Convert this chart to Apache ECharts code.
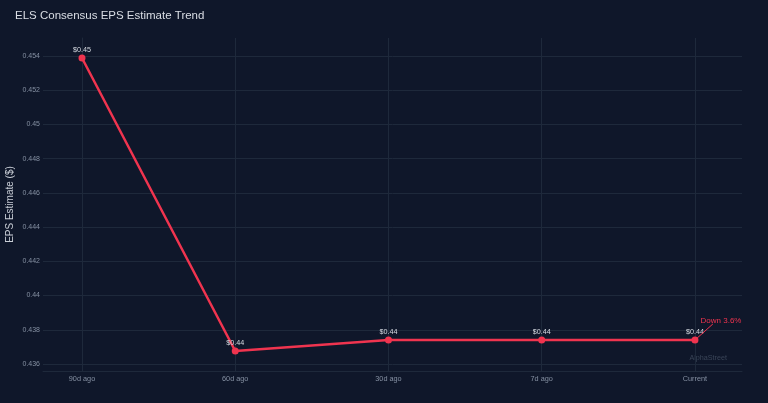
<!DOCTYPE html>
<html>
<head>
<meta charset="utf-8">
<script src="https://cdn.jsdelivr.net/npm/echarts@6/dist/echarts.min.js"></script>
<style>
html,body{margin:0;padding:0;background:#0f172a;}
#c{width:768px;height:403px;}
</style>
</head>
<body>
<div id="c"></div>
<script>
const categories = ['90d ago', '60d ago', '30d ago', '7d ago', 'Current'];
const epsValues = [0.45388, 0.43676, 0.43740, 0.43740, 0.43740];
const yTicks = [0.436, 0.438, 0.44, 0.442, 0.444, 0.446, 0.448, 0.45, 0.452, 0.454];
const xTicks = [0, 1, 2, 3, 4];
const annotationText = 'Down 3.6%';
const watermark = 'AlphaStreet';

const chart = echarts.init(document.getElementById('c'));
const gridColor = '#1e293b';
const labelColor = '#8590a2';
const red = '#f0344f';
const ff = 'Liberation Sans, Arial, sans-serif';

chart.setOption({
  backgroundColor: '#0f172a',
  animation: false,
  title: {
    text: 'ELS Consensus EPS Estimate Trend',
    left: 10, top: 5,
    textStyle: {color: '#d9dde4', fontSize: 11.5, fontWeight: 'normal', fontFamily: ff}
  },
  grid: {left: 43, right: 26, top: 38, bottom: 32, containLabel: false, outerBoundsMode: 'none'},
  xAxis: {
    type: 'value',
    min: -0.2545, max: 4.307,
    axisLine: {show: true, lineStyle: {color: gridColor}},
    axisTick: {show: false, customValues: xTicks},
    splitLine: {show: true, lineStyle: {color: gridColor, width: 1}},
    axisLabel: {
      customValues: xTicks,
      color: labelColor, fontSize: 7.3, margin: 4, fontFamily: ff,
      formatter: v => categories[Math.round(v)] || ''
    }
  },
  yAxis: {
    type: 'value',
    min: 0.43559, max: 0.45505,
    name: 'EPS Estimate ($)',
    nameLocation: 'middle', nameGap: 28, nameMoveOverlap: false,
    nameTextStyle: {color: '#c9ced6', fontSize: 10, fontFamily: ff},
    axisLine: {show: true, lineStyle: {color: gridColor}},
    axisTick: {show: false, customValues: yTicks},
    splitLine: {show: true, lineStyle: {color: gridColor, width: 1}},
    axisLabel: {
      customValues: yTicks,
      color: labelColor, fontSize: 7, margin: 3, fontFamily: ff
    }
  },
  graphic: [{
    type: 'text', right: 41, top: 355,
    style: {text: watermark, fill: '#3a4558', fontSize: 7.2, fontFamily: ff}
  }],
  series: [{
    type: 'line',
    data: epsValues.map((v, i) => [i, v]),
    symbol: 'circle', symbolSize: 7,
    lineStyle: {color: red, width: 2.5},
    itemStyle: {color: red},
    label: {
      show: true, position: 'top', distance: 1,
      color: '#d6dae1', fontSize: 7.2, fontFamily: ff,
      formatter: p => '$' + p.value[1].toFixed(2)
    },
    markLine: {
      silent: true, symbol: 'none',
      lineStyle: {color: red, width: 1, type: 'solid'},
      label: {show: false},
      data: [[{coord: [4, epsValues[4]]}, {coord: [4.117, 0.43834]}]]
    },
    markPoint: {
      silent: true, symbol: 'circle', symbolSize: 0,
      data: [{coord: [4.17, 0.43850], value: annotationText}],
      label: {
        show: true, position: 'inside', color: red, fontSize: 8, fontFamily: ff,
        formatter: () => annotationText
      }
    }
  }]
});
</script>
</body>
</html>
